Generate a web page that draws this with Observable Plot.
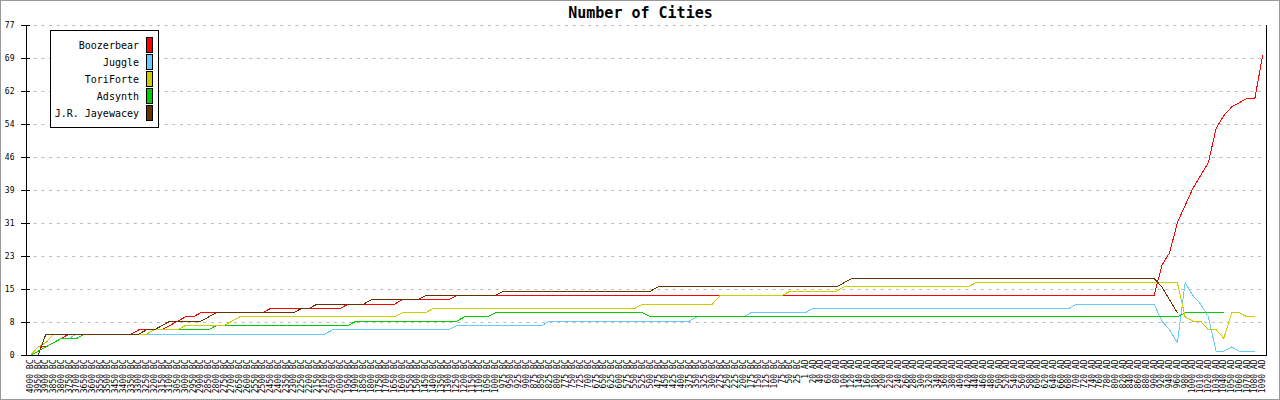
<!DOCTYPE html>
<html><head><meta charset="utf-8">
<script src="https://cdn.jsdelivr.net/npm/d3@7"></script>
<script src="https://cdn.jsdelivr.net/npm/@observablehq/plot@0.6"></script>
<style>
html,body{margin:0;padding:0;background:#fff;}
#chart svg{display:block;outline:1px solid #999;outline-offset:-1px;}
</style></head><body><div id="chart"></div>
<script>
// ---- categories (turn dates) ----
const bcYears = [4000,3950,3900,3850,3800,3750,3700,3650,3600,3550,3500,3450,3400,3350,3300,3250,3200,3150,3100,3050,
  3000,2950,2900,2850,2800,2750,2700,2650,2600,2550,2500,2450,2400,2350,2300,2250,2200,2150,2100,2050,
  2000,1950,1900,1850,1800,1750,1700,1650,1600,1550,1500,1450,1400,1350,1300,1250,1200,1150,1100,1050,1000,
  975,950,925,900,875,850,825,800,775,750,725,700,675,650,625,600,575,550,525,500,475,450,425,400,375,350,325,300,
  275,250,225,200,175,150,125,100,75,50,25];
const adYears = [1,20,40,60,80,100,120,140,160,180,200,220,240,260,280,300,320,340,360,380,400,420,440,460,480,500,
  520,540,560,580,600,620,640,660,680,700,720,740,760,780,800,820,840,860,880,900,920,940,960,980,1000,
  1010,1020,1030,1040,1050,1060,1070,1080,1090];
const xLabels = [...bcYears.map(y => `${y} BC`), ...adYears.map(y => `${y} AD`)];

// ---- series ----
const seriesNames = ["Boozerbear", "Juggle", "ToriForte", "Adsynth", "J.R. Jayewacey"];
const seriesColors = ["#ff0000", "#66ccff", "#cccc00", "#00cc00", "#663300"];

const boozerbear = [
  0,2,2,3,4,5,5,5,5,5,
  5,5,5,5,6,6,6,6,7,8,
  9,9,10,10,10,10,10,10,10,10,
  10,11,11,11,11,11,11,11,11,11,
  11,12,12,12,12,12,12,12,13,13,
  13,13,13,13,13,14,14,14,14,14,
  14,14,14,14,14,14,14,14,14,14,
  14,14,14,14,14,14,14,14,14,14,
  14,14,14,14,14,14,14,14,14,14,
  14,14,14,14,14,14,14,14,14,14,
  14,14,14,14,14,14,14,14,14,14,
  14,14,14,14,14,14,14,14,14,14,
  14,14,14,14,14,14,14,14,14,14,
  14,14,14,14,14,14,14,14,14,14,
  14,14,14,14,14,14,21,24,31,35,
  39,42,45,53,56,58,59,60,60,70];
const juggle = [
  0,1,2,3,4,4,5,5,5,5,
  5,5,5,5,5,5,5,5,5,5,
  5,5,5,5,5,5,5,5,5,5,
  5,5,5,5,5,5,5,5,5,6,
  6,6,6,6,6,6,6,6,6,6,
  6,6,6,6,6,7,7,7,7,7,
  7,7,7,7,7,7,7,8,8,8,
  8,8,8,8,8,8,8,8,8,8,
  8,8,8,8,8,8,9,9,9,9,
  9,9,9,10,10,10,10,10,10,10,
  10,11,11,11,11,11,11,11,11,11,
  11,11,11,11,11,11,11,11,11,11,
  11,11,11,11,11,11,11,11,11,11,
  11,11,11,11,11,12,12,12,12,12,
  12,12,12,12,12,12,8,6,3,17,
  14,12,9,1,1,2,1,1,1,null];
const toriForte = [
  0,2,3,5,5,5,5,5,5,5,
  5,5,5,5,5,5,6,6,6,6,
  7,7,7,7,7,7,8,9,9,9,
  9,9,9,9,9,9,9,9,9,9,
  9,9,9,9,9,9,9,9,10,10,
  10,10,11,11,11,11,11,11,11,11,
  11,11,11,11,11,11,11,11,11,11,
  11,11,11,11,11,11,11,11,11,12,
  12,12,12,12,12,12,12,12,12,14,
  14,14,14,14,14,14,14,14,15,15,
  15,15,15,15,15,16,16,16,16,16,
  16,16,16,16,16,16,16,16,16,16,
  16,16,17,17,17,17,17,17,17,17,
  17,17,17,17,17,17,17,17,17,17,
  17,17,17,17,17,17,17,17,17,9,
  8,8,6,6,4,10,10,9,9,null];
const adsynth = [
  0,1,2,3,4,4,4,5,5,5,
  5,5,5,5,5,5,6,6,6,6,
  6,6,6,6,7,7,7,7,7,7,
  7,7,7,7,7,7,7,7,7,7,
  7,7,8,8,8,8,8,8,8,8,
  8,8,8,8,8,8,9,9,9,9,
  10,10,10,10,10,10,10,10,10,10,
  10,10,10,10,10,10,10,10,10,10,
  9,9,9,9,9,9,9,9,9,9,
  9,9,9,9,9,9,9,9,9,9,
  9,9,9,9,9,9,9,9,9,9,
  9,9,9,9,9,9,9,9,9,9,
  9,9,9,9,9,9,9,9,9,9,
  9,9,9,9,9,9,9,9,9,9,
  9,9,9,9,9,9,9,9,9,10,
  10,10,10,10,10,null,null,null,null,null];
const jayewacey = [
  0,0,5,5,5,5,5,5,5,5,
  5,5,5,5,5,6,6,7,8,8,
  8,8,8,9,10,10,10,10,10,10,
  10,10,10,10,10,11,11,12,12,12,
  12,12,12,12,13,13,13,13,13,13,
  13,14,14,14,14,14,14,14,14,14,
  14,15,15,15,15,15,15,15,15,15,
  15,15,15,15,15,15,15,15,15,15,
  15,16,16,16,16,16,16,16,16,16,
  16,16,16,16,16,16,16,16,16,16,
  16,16,16,16,16,17,18,18,18,18,
  18,18,18,18,18,18,18,18,18,18,
  18,18,18,18,18,18,18,18,18,18,
  18,18,18,18,18,18,18,18,18,18,
  18,18,18,18,18,18,16,13,10,null,
  null,null,null,null,null,null,null,null,null,null];

// ---- y ticks ----
const yTicks = [0, 7.7, 15.4, 23.1, 30.8, 38.5, 46.2, 53.9, 61.6, 69.3, 77];
const yTickLabels = ["0", "8", "15", "23", "31", "39", "46", "54", "62", "69", "77"];

// ---- build table (drawing order: red, blue, green, yellow, brown) ----
const valuesBySeries = [boozerbear, juggle, toriForte, adsynth, jayewacey];
const drawOrder = [0, 1, 3, 2, 4];
const rows = [];
for (const s of drawOrder) {
  valuesBySeries[s].forEach((v, i) => {
    if (v != null) rows.push({series: seriesNames[s], label: xLabels[i], value: v});
  });
}

const fontFam = "'DejaVu Sans Mono', monospace";
const chart = Plot.plot({
  width: 1280, height: 400,
  marginTop: 25, marginBottom: 45, marginLeft: 26, marginRight: 14,
  style: {fontFamily: fontFam, fontSize: "8px", color: "#000", background: "#fff", overflow: "visible"},
  x: {type: "point", domain: xLabels, padding: 0.5, label: null},
  y: {domain: [0, 77], label: null},
  color: {domain: seriesNames, range: seriesColors},
  marks: [
    Plot.gridY(yTicks, {stroke: "#bbb", strokeOpacity: 1, strokeDasharray: "3,4.7"}),
    Plot.axisY({ticks: yTicks, tickFormat: d => yTickLabels[yTicks.indexOf(d)], tickSize: 0, tickPadding: 12, fontSize: 8}),
    Plot.axisY({ticks: yTicks, tickFormat: () => "", tickSize: 9, dx: 4}),
    Plot.axisX({ticks: xLabels, tickSize: 0, tickRotate: -90, tickPadding: 4, fontSize: 8}),
    Plot.line(rows, {x: "label", y: "value", z: "series", stroke: "series", strokeWidth: 1, shapeRendering: "crispEdges"}),
    Plot.frame({anchor: "left"}),
    Plot.frame({anchor: "bottom"}),
    Plot.frame({anchor: "right"}),
    Plot.text(["Number of Cities"], {frameAnchor: "top", lineAnchor: "middle", dy: -12, dx: -6, fontWeight: "bold", fontSize: 15})
  ]
});

// ---- in-plot legend ----
const svg = d3.select(chart);
const lg = svg.append("g").attr("font-family", fontFam).attr("font-size", 10);
lg.append("rect").attr("x", 50.5).attr("y", 30.5).attr("width", 108).attr("height", 97)
  .attr("fill", "#fff").attr("stroke", "#000");
seriesNames.forEach((name, i) => {
  const cy = 45 + i * 17;
  lg.append("text").attr("x", 139).attr("y", cy).attr("dy", "0.35em").attr("text-anchor", "end").attr("fill", "#000").text(name);
  lg.append("rect").attr("x", 146.5).attr("y", cy - 7.5).attr("width", 6).attr("height", 15)
    .attr("fill", seriesColors[i]).attr("stroke", "#000");
});

document.getElementById("chart").appendChild(chart);
</script>
</body></html>
